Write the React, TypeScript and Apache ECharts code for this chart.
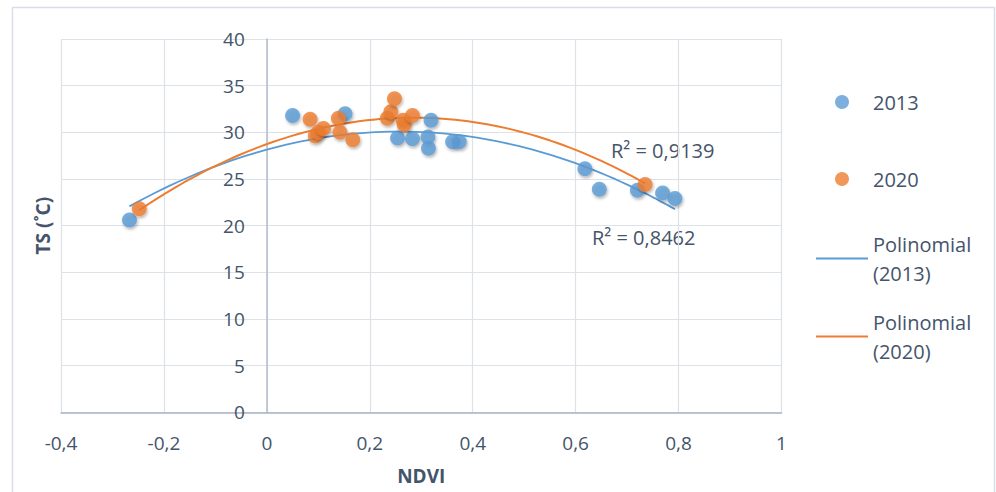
import React, { useEffect, useRef } from "react";
import * as echarts from "echarts";

const xTicks = { min: -0.4, max: 1, interval: 0.2 };
const yTicks = { min: 0, max: 40, interval: 5 };

const ndvi2013 = [-0.267, 0.050, 0.152, 0.254, 0.283, 0.313, 0.314, 0.319, 0.361, 0.374, 0.618, 0.646, 0.720, 0.769, 0.793];
const ts2013 = [20.6, 31.8, 32.0, 29.4, 29.3, 29.5, 28.3, 31.3, 29.0, 29.0, 26.1, 23.9, 23.8, 23.5, 22.9];

const ndvi2020 = [-0.248, 0.084, 0.094, 0.100, 0.110, 0.139, 0.142, 0.167, 0.234, 0.241, 0.248, 0.265, 0.267, 0.283, 0.735];
const ts2020 = [21.8, 31.4, 29.6, 30.0, 30.4, 31.5, 30.0, 29.2, 31.5, 32.2, 33.6, 31.3, 30.8, 31.8, 24.4];

const seriesNames = ["2013", "2020", "Polinomial\n(2013)", "Polinomial\n(2020)"];
const r2Labels = ["R² = 0,8462", "R² = 0,9139"];

const BLUE = "#5B9BD5";
const ORANGE = "#ED7D31";
const TEXT = "#44546A";
const FONT = "'Open Sans', sans-serif";

function fitQuadratic(xs: number[], ys: number[]) {
  // least squares y = a + b x + c x^2
  let n = xs.length, sx = 0, sx2 = 0, sx3 = 0, sx4 = 0, sy = 0, sxy = 0, sx2y = 0;
  for (let i = 0; i < n; i++) {
    const x = xs[i], y = ys[i];
    sx += x; sx2 += x * x; sx3 += x * x * x; sx4 += x * x * x * x;
    sy += y; sxy += x * y; sx2y += x * x * y;
  }
  const M = [
    [n, sx, sx2, sy],
    [sx, sx2, sx3, sxy],
    [sx2, sx3, sx4, sx2y],
  ];
  for (let i = 0; i < 3; i++) {
    let p = i;
    for (let r = i + 1; r < 3; r++) if (Math.abs(M[r][i]) > Math.abs(M[p][i])) p = r;
    [M[i], M[p]] = [M[p], M[i]];
    for (let r = 0; r < 3; r++) {
      if (r === i) continue;
      const f = M[r][i] / M[i][i];
      for (let c = i; c < 4; c++) M[r][c] -= f * M[i][c];
    }
  }
  return [M[0][3] / M[0][0], M[1][3] / M[1][1], M[2][3] / M[2][2]];
}

function trend(xs: number[], ys: number[]) {
  const [a, b, c] = fitQuadratic(xs, ys);
  const lo = Math.min(...xs), hi = Math.max(...xs);
  const pts: number[][] = [];
  const N = 80;
  for (let i = 0; i <= N; i++) {
    const x = lo + ((hi - lo) * i) / N;
    pts.push([x, a + b * x + c * x * x]);
  }
  return pts;
}

const fmt = (v: number) => String(Math.round(v * 10) / 10).replace(".", ",");

const GRID_LEFT = 61;
const GRID_RIGHT = 214.5;
const PLOT_W = 996 - GRID_LEFT - GRID_RIGHT;

export default function App() {
  const ref = useRef<HTMLDivElement>(null);
  useEffect(() => {
    if (!ref.current) return;
    const chart = echarts.init(ref.current, undefined, { renderer: "svg" });
    const shadow = {
      shadowBlur: 3,
      shadowColor: "rgba(0,0,0,0.35)",
      shadowOffsetX: 1,
      shadowOffsetY: 2,
    };
    const legendBase = {
      orient: "vertical",
      padding: 0,
      itemWidth: 52,
      itemHeight: 14,
      itemGap: 0,
    };
    const singleText = { color: TEXT, fontFamily: FONT, fontSize: 20, lineHeight: 22 };
    const multiText = {
      color: TEXT,
      fontFamily: FONT,
      fontSize: 20,
      lineHeight: 29,
      padding: [29, 0, 0, 0],
    };
    const lineIcon = "path://M0,0H52V2H0Z";
    // y axis sits at NDVI = 0 inside the plot
    const zeroOffset = -((0 - xTicks.min) / (xTicks.max - xTicks.min)) * PLOT_W;
    chart.setOption({
      animation: false,
      textStyle: { fontFamily: FONT },
      grid: {
        left: GRID_LEFT,
        right: GRID_RIGHT,
        top: 39,
        bottom: 79.7,
        containLabel: false,
        outerBoundsMode: "none",
      },
      xAxis: {
        type: "value",
        min: xTicks.min,
        max: xTicks.max,
        interval: xTicks.interval,
        name: "NDVI",
        nameLocation: "middle",
        nameGap: 54,
        nameTextStyle: { color: TEXT, fontSize: 19, fontWeight: "bold", fontFamily: FONT },
        axisLine: { show: true, onZero: false, lineStyle: { color: "#a9b3c6", width: 1.5 } },
        axisTick: { show: false },
        axisLabel: { color: TEXT, fontSize: 19, margin: 21, formatter: fmt, fontFamily: FONT },
        splitLine: { show: true, lineStyle: { color: "#dde1e8", width: 1.2 } },
      },
      yAxis: {
        type: "value",
        min: yTicks.min,
        max: yTicks.max,
        interval: yTicks.interval,
        offset: zeroOffset,
        name: "TS (˚C)",
        nameLocation: "middle",
        nameGap: 214,
        nameTextStyle: { color: TEXT, fontSize: 19, fontWeight: "bold", fontFamily: FONT },
        axisLine: { show: true, onZero: false, lineStyle: { color: "#b3bccd", width: 1.5 } },
        axisTick: { show: false },
        axisLabel: { color: TEXT, fontSize: 19, margin: 22, formatter: fmt, fontFamily: FONT },
        splitLine: { show: true, lineStyle: { color: "#dde1e8", width: 1.2 } },
      },
      legend: [
        { ...legendBase, left: 835, top: 91, data: [{ name: seriesNames[0], icon: "circle" }], textStyle: singleText },
        { ...legendBase, left: 835, top: 168, data: [{ name: seriesNames[1], icon: "circle" }], textStyle: singleText },
        { ...legendBase, left: 816, top: 215, data: [{ name: seriesNames[2], icon: lineIcon }], textStyle: multiText },
        { ...legendBase, left: 816, top: 293, data: [{ name: seriesNames[3], icon: lineIcon }], textStyle: multiText },
      ],
      graphic: [
        {
          type: "rect",
          silent: true,
          shape: { x: 12.5, y: 7.5, width: 982, height: 500 },
          style: { fill: "none", stroke: "#d9dde6", lineWidth: 1.5 },
        },
        {
          type: "text",
          left: 611,
          top: 140,
          style: { text: r2Labels[1], fill: TEXT, fontSize: 20, fontFamily: FONT },
        },
        {
          type: "text",
          left: 592,
          top: 227,
          style: { text: r2Labels[0], fill: TEXT, fontSize: 20, fontFamily: FONT },
        },
      ],
      series: [
        {
          name: seriesNames[2],
          type: "line",
          data: trend(ndvi2013, ts2013),
          symbol: "none",
          showSymbol: false,
          lineStyle: { color: BLUE, width: 1.8 },
          itemStyle: { color: BLUE },
          z: 1,
        },
        {
          name: seriesNames[3],
          type: "line",
          data: trend(ndvi2020, ts2020),
          symbol: "none",
          showSymbol: false,
          lineStyle: { color: ORANGE, width: 2 },
          itemStyle: { color: ORANGE },
          z: 1,
        },
        {
          name: seriesNames[0],
          type: "scatter",
          data: ndvi2013.map((x, i) => [x, ts2013[i]]),
          symbolSize: 15,
          itemStyle: { color: BLUE, ...shadow },
          z: 3,
        },
        {
          name: seriesNames[1],
          type: "scatter",
          data: ndvi2020.map((x, i) => [x, ts2020[i]]),
          symbolSize: 15,
          itemStyle: { color: ORANGE, ...shadow },
          z: 4,
        },
      ],
    });
    return () => chart.dispose();
  }, []);
  return (
    <div
      ref={ref}
      style={{ position: "fixed", left: 0, top: 0, width: 996, height: 492, background: "#fff" }}
    />
  );
}
